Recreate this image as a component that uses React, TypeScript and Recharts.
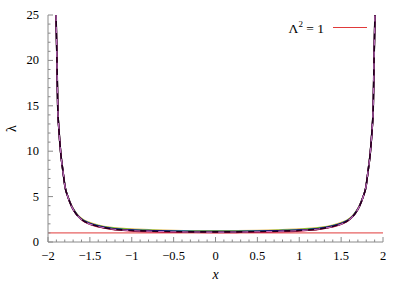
import React from 'react';
import { LineChart, Line, XAxis, YAxis, ReferenceLine, Legend } from 'recharts';

const xs = [-1.904, -1.893, -1.884, -1.869, -1.848, -1.82, -1.797, -1.76, -1.717, -1.68, -1.638, -1.58, -1.519, -1.4, -1.24, -1.0, -0.75, -0.5, -0.25, 0, 0.25, 0.5, 0.75, 1.0, 1.24, 1.4, 1.519, 1.58, 1.638, 1.68, 1.717, 1.76, 1.797, 1.82, 1.848, 1.869, 1.884, 1.893, 1.904];

const orangeVals = [25, 20, 15, 12.3, 9.8, 7.7, 6.1, 4.95, 3.97, 3.4, 2.9, 2.47, 2.2, 1.86, 1.6, 1.42, 1.33, 1.27, 1.24, 1.23, 1.24, 1.27, 1.33, 1.42, 1.6, 1.86, 2.2, 2.47, 2.9, 3.4, 3.97, 4.95, 6.1, 7.7, 9.8, 12.3, 15, 20, 25];
const greenVals = [25, 20, 15, 12.3, 9.8, 7.7, 6.1, 4.93, 3.94, 3.36, 2.86, 2.42, 2.14, 1.8, 1.54, 1.36, 1.28, 1.22, 1.19, 1.18, 1.19, 1.22, 1.28, 1.36, 1.54, 1.8, 2.14, 2.42, 2.86, 3.36, 3.94, 4.93, 6.1, 7.7, 9.8, 12.3, 15, 20, 25];
const blueVals = [25, 20, 15, 12.3, 9.8, 7.7, 6.1, 4.92, 3.92, 3.33, 2.83, 2.39, 2.1, 1.76, 1.5, 1.32, 1.24, 1.19, 1.16, 1.15, 1.16, 1.19, 1.24, 1.32, 1.5, 1.76, 2.1, 2.39, 2.83, 3.33, 3.92, 4.92, 6.1, 7.7, 9.8, 12.3, 15, 20, 25];
const redVals = [25, 20, 15, 12.3, 9.8, 7.7, 6.1, 4.9, 3.9, 3.3, 2.8, 2.33, 2.03, 1.68, 1.4, 1.22, 1.13, 1.08, 1.06, 1.05, 1.06, 1.08, 1.13, 1.22, 1.4, 1.68, 2.03, 2.33, 2.8, 3.3, 3.9, 4.9, 6.1, 7.7, 9.8, 12.3, 15, 20, 25];
const blackVals = [25, 20, 15, 12.3, 9.8, 7.7, 6.1, 4.9, 3.9, 3.3, 2.8, 2.35, 2.06, 1.72, 1.45, 1.28, 1.2, 1.15, 1.12, 1.11, 1.12, 1.15, 1.2, 1.28, 1.45, 1.72, 2.06, 2.35, 2.8, 3.3, 3.9, 4.9, 6.1, 7.7, 9.8, 12.3, 15, 20, 25];
const magentaVals = [25, 20, 15, 12.3, 9.8, 7.7, 6.1, 4.9, 3.9, 3.3, 2.8, 2.35, 2.05, 1.71, 1.44, 1.26, 1.18, 1.13, 1.1, 1.09, 1.1, 1.13, 1.18, 1.26, 1.44, 1.71, 2.05, 2.35, 2.8, 3.3, 3.9, 4.9, 6.1, 7.7, 9.8, 12.3, 15, 20, 25];

const xMajorTicks = [-2, -1.5, -1, -0.5, 0, 0.5, 1, 1.5, 2];
const xMajorLabels = ['\u22122', '\u22121.5', '\u22121', '\u22120.5', '0', '0.5', '1', '1.5', '2'];
const yMajorTicks = [0, 5, 10, 15, 20, 25];
const yMajorLabels = ['0', '5', '10', '15', '20', '25'];
const referenceLevel = 1;
const legendLabel = '\u039B';

const xAllTicks = Array.from({ length: 41 }, (_, i) => Math.round((-2 + i * 0.1) * 10) / 10);
const yAllTicks = Array.from({ length: 26 }, (_, i) => i);

const data = xs.map((x, i) => ({
  x,
  orange: orangeVals[i],
  green: greenVals[i],
  blue: blueVals[i],
  red: redVals[i],
  black: blackVals[i],
  magenta: magentaVals[i],
}));

const FONT = "'Liberation Serif', 'Times New Roman', Times, serif";
const AXIS = '#8a8a8a';
const textStyle = { fontFamily: FONT };

const majorIdx = (arr: number[], v: number) => arr.findIndex((m) => Math.abs(m - v) < 1e-6);

const BottomTick = (props: any) => {
  const { x, y, payload } = props;
  const idx = majorIdx(xMajorTicks, payload.value);
  const major = idx >= 0;
  return (
    <g>
      <line x1={x} x2={x} y1={y} y2={y - (major ? 5 : 2.5)} stroke={AXIS} strokeWidth={1} />
      {major && (
        <text x={x} y={y + 18} textAnchor="middle" style={textStyle} fontSize={12.5} fill="#000">
          {xMajorLabels[idx]}
        </text>
      )}
    </g>
  );
};

const TopTick = (props: any) => {
  const { x, y, payload } = props;
  const major = majorIdx(xMajorTicks, payload.value) >= 0;
  return <line x1={x} x2={x} y1={y} y2={y + (major ? 5 : 2.5)} stroke={AXIS} strokeWidth={1} />;
};

const LeftTick = (props: any) => {
  const { x, y, payload } = props;
  const idx = majorIdx(yMajorTicks, payload.value);
  const major = idx >= 0;
  return (
    <g>
      <line x1={x} x2={x + (major ? 5 : 2.5)} y1={y} y2={y} stroke={AXIS} strokeWidth={1} />
      {major && (
        <text x={x - 9} y={y + 4} textAnchor="end" style={textStyle} fontSize={12.5} fill="#000">
          {yMajorLabels[idx]}
        </text>
      )}
    </g>
  );
};

const RightTick = (props: any) => {
  const { x, y, payload } = props;
  const major = majorIdx(yMajorTicks, payload.value) >= 0;
  return <line x1={x} x2={x - (major ? 5 : 2.5)} y1={y} y2={y} stroke={AXIS} strokeWidth={1} />;
};

const renderLegend = () => (
  <svg width={100} height={22} style={{ display: 'block' }}>
    <text x={39} y={16} textAnchor="end" style={textStyle} fontSize={13.5} fill="#000">
      {legendLabel}
      <tspan dy={-6} fontSize={9}>2</tspan>
      <tspan dy={6}>{' = 1'}</tspan>
    </text>
    <line x1={48} x2={82} y1={10.5} y2={10.5} stroke="#e03a3a" strokeWidth={1.2} />
  </svg>
);

export default function App() {
  return (
    <div style={{ position: 'absolute', left: 0, top: 0 }}>
      <LineChart width={407} height={284} data={data} margin={{ top: 15, right: 24, bottom: 0, left: 0 }}>
        <XAxis
          xAxisId="bottom"
          dataKey="x"
          type="number"
          domain={[-2, 2]}
          ticks={xAllTicks}
          interval={0}
          tickSize={0}
          tickMargin={0}
          tick={<BottomTick />}
          height={42}
          axisLine={{ stroke: AXIS }}
          allowDataOverflow
          label={{ value: 'x', position: 'insideBottom', offset: 5, fill: '#000', fontSize: 14, fontStyle: 'italic', style: textStyle }}
        />
        <XAxis
          xAxisId="top"
          orientation="top"
          dataKey="x"
          type="number"
          domain={[-2, 2]}
          ticks={xAllTicks}
          interval={0}
          tickSize={0}
          tickMargin={0}
          tick={<TopTick />}
          height={0}
          axisLine={{ stroke: AXIS }}
          allowDataOverflow
        />
        <YAxis
          yAxisId="left"
          type="number"
          domain={[0, 25]}
          ticks={yAllTicks}
          interval={0}
          tickSize={0}
          tickMargin={0}
          tick={<LeftTick />}
          width={48}
          axisLine={{ stroke: AXIS }}
          allowDataOverflow
          label={{ value: '\u03BB', angle: -90, position: 'center', dx: -13, fill: '#000', fontSize: 14, style: textStyle }}
        />
        <YAxis
          yAxisId="right"
          orientation="right"
          type="number"
          domain={[0, 25]}
          ticks={yAllTicks}
          interval={0}
          tickSize={0}
          tickMargin={0}
          tick={<RightTick />}
          width={0}
          axisLine={{ stroke: AXIS }}
          allowDataOverflow
        />
        <ReferenceLine xAxisId="bottom" yAxisId="left" y={referenceLevel} stroke="#e03a3a" strokeWidth={1} />
        <Line xAxisId="bottom" yAxisId="left" type="monotone" dataKey="orange" stroke="#e0b040" strokeWidth={1.5} dot={false} isAnimationActive={false} />
        <Line xAxisId="bottom" yAxisId="left" type="monotone" dataKey="green" stroke="#20d020" strokeWidth={1.5} dot={false} isAnimationActive={false} />
        <Line xAxisId="bottom" yAxisId="left" type="monotone" dataKey="blue" stroke="#2020ff" strokeWidth={1.5} dot={false} isAnimationActive={false} />
        <Line xAxisId="bottom" yAxisId="left" type="monotone" dataKey="red" stroke="#d01040" strokeWidth={1.5} dot={false} isAnimationActive={false} />
        <Line xAxisId="bottom" yAxisId="left" type="monotone" dataKey="black" stroke="#200020" strokeWidth={1.6} dot={false} isAnimationActive={false} />
        <Line xAxisId="bottom" yAxisId="left" type="monotone" dataKey="magenta" stroke="#c070c0" strokeWidth={1.1} strokeDasharray="6 6" dot={false} isAnimationActive={false} />
        <Legend
          layout="vertical"
          verticalAlign="middle"
          align="center"
          content={renderLegend}
          wrapperStyle={{ left: 285, top: 17, width: 100, height: 22 }}
        />
      </LineChart>
    </div>
  );
}
